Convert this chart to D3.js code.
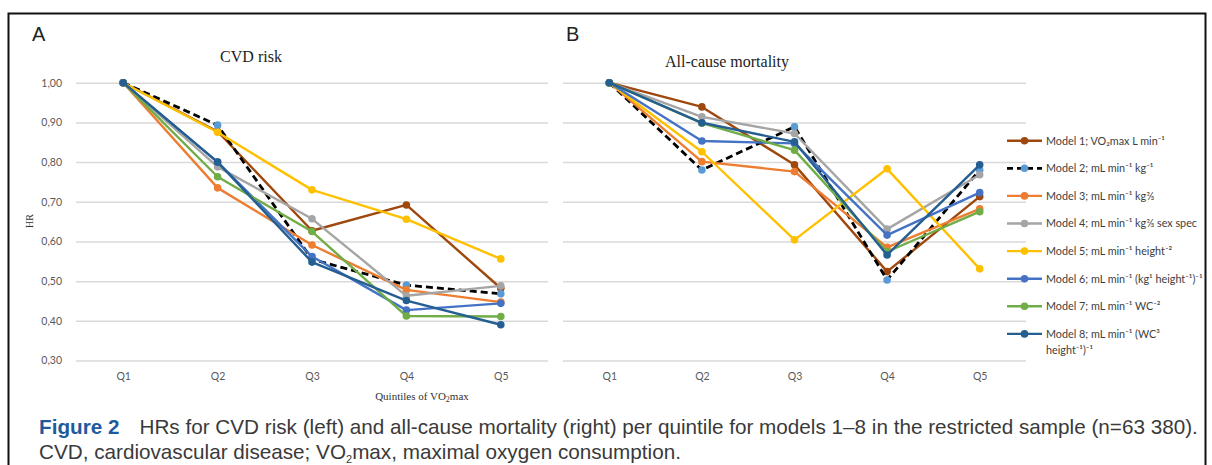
<!DOCTYPE html>
<html>
<head>
<meta charset="utf-8">
<script src="https://cdn.jsdelivr.net/npm/d3@7"></script>
<style>
  html, body { margin: 0; padding: 0; background: #fff; }
  svg { display: block; }
</style>
</head>
<body>
<svg id="fig" width="1212" height="465"></svg>
<script>
// Quintile categories and y ticks
const quintiles = ["Q1", "Q2", "Q3", "Q4", "Q5"];
const hrTicks = [0.3, 0.4, 0.5, 0.6, 0.7, 0.8, 0.9, 1.0];

// Model names (legend)
const modelNames = [
  ["Model 1; VO₂max L min⁻¹"],
  ["Model 2; mL min⁻¹ kg⁻¹"],
  ["Model 3; mL min⁻¹ kg⅔"],
  ["Model 4; mL min⁻¹ kg⅔ sex spec"],
  ["Model 5; mL min⁻¹ height⁻²"],
  ["Model 6; mL min⁻¹ (kg¹ height⁻¹)⁻¹"],
  ["Model 7; mL min⁻¹ WC⁻²"],
  ["Model 8; mL min⁻¹ (WC³", "height⁻¹)⁻¹"]
];

// HR per quintile, CVD risk (panel A), models 1–8
const cvdRisk = [
  [1.00, 0.877, 0.627, 0.692, 0.482],
  [1.00, 0.893, 0.555, 0.490, 0.468],
  [1.00, 0.735, 0.591, 0.478, 0.447],
  [1.00, 0.788, 0.657, 0.463, 0.488],
  [1.00, 0.875, 0.730, 0.656, 0.556],
  [1.00, 0.800, 0.562, 0.427, 0.444],
  [1.00, 0.763, 0.625, 0.412, 0.411],
  [1.00, 0.800, 0.548, 0.451, 0.390]
];

// HR per quintile, all-cause mortality (panel B), models 1–8
const mortality = [
  [1.00, 0.939, 0.793, 0.524, 0.713],
  [1.00, 0.780, 0.889, 0.503, 0.780],
  [1.00, 0.801, 0.776, 0.585, 0.682],
  [1.00, 0.914, 0.872, 0.631, 0.768],
  [1.00, 0.826, 0.604, 0.783, 0.531],
  [1.00, 0.853, 0.847, 0.616, 0.723],
  [1.00, 0.898, 0.830, 0.574, 0.675],
  [1.00, 0.899, 0.851, 0.566, 0.793]
];

// Series styling
const lineColors   = ["#9e480e", "#000000", "#ed7d31", "#a5a5a5", "#ffc000", "#4472c4", "#70ad47", "#255e91"];
const markerColors = ["#9e480e", "#5b9bd5", "#ed7d31", "#a5a5a5", "#ffc000", "#4472c4", "#70ad47", "#255e91"];
const dashes       = [null, "7,4", null, null, null, null, null, null];

const svg = d3.select("#fig");

// Figure frame
svg.append("path")
  .attr("d", "M8.5,470 V13.5 H1205.5 V470")
  .attr("fill", "none").attr("stroke", "#111").attr("stroke-width", 2);

const y = d3.scaleLinear().domain([0.3, 1.0]).range([360.5, 82.7]);
const tickSans = "Lato, 'Open Sans', sans-serif";
const serif = "'Liberation Serif', 'DejaVu Serif', serif";

function drawPanel(x0, x1, data, withLabels) {
  const x = d3.scalePoint().domain(quintiles).range([x0, x1]).padding(0.5);
  const g = svg.append("g");

  // horizontal gridlines
  const yAxis = d3.axisLeft(y).tickValues(hrTicks).tickSize(-(x1 - x0))
    .tickFormat(d => withLabels ? d3.format(".2f")(d).replace(".", ",") : "");
  const ga = g.append("g").attr("transform", `translate(${x0},0)`).call(yAxis);
  ga.select(".domain").remove();
  ga.selectAll(".tick line").attr("stroke", "#d9d9d9").attr("stroke-width", 1.5);
  ga.selectAll(".tick text")
    .attr("x", -14).attr("fill", "#595959")
    .style("font-family", tickSans).style("font-size", "10.5px");

  // category labels
  const xAxis = d3.axisBottom(x).tickSize(0).tickPadding(0);
  const gx = g.append("g").attr("transform", "translate(0,373)").call(xAxis);
  gx.select(".domain").remove();
  gx.selectAll(".tick text").attr("fill", "#595959")
    .style("font-family", tickSans).style("font-size", "10.5px");

  const line = d3.line().x((d, i) => x(quintiles[i])).y(d => y(d));

  data.forEach((vals, m) => {
    const s = g.append("g");
    s.append("path").datum(vals)
      .attr("d", line).attr("fill", "none")
      .attr("stroke", lineColors[m]).attr("stroke-width", m === 1 ? 2.8 : 2.4)
      .attr("stroke-dasharray", dashes[m])
      .attr("stroke-linejoin", "round");
    s.selectAll("circle").data(vals).join("circle")
      .attr("cx", (d, i) => x(quintiles[i])).attr("cy", d => y(d))
      .attr("r", 3.8).attr("fill", markerColors[m]);
  });
}

drawPanel(76, 548, cvdRisk, true);
drawPanel(563, 1026, mortality, false);

// Panel letters and titles
svg.append("text").attr("x", 32).attr("y", 41).text("A")
  .style("font-family", "'Liberation Sans', Arial, sans-serif").style("font-size", "20px").attr("fill", "#222");
svg.append("text").attr("x", 566).attr("y", 41).text("B")
  .style("font-family", "'Liberation Sans', Arial, sans-serif").style("font-size", "20px").attr("fill", "#222");

svg.append("text").attr("x", 251).attr("y", 62).attr("text-anchor", "middle").text("CVD risk")
  .style("font-family", serif).style("font-size", "16px").attr("fill", "#222");
svg.append("text").attr("x", 727).attr("y", 67).attr("text-anchor", "middle").text("All-cause mortality")
  .style("font-family", serif).style("font-size", "16px").attr("fill", "#222");

// Axis titles
svg.append("text").attr("transform", "translate(33,221) rotate(-90)").attr("text-anchor", "middle")
  .text("HR").style("font-family", serif).style("font-size", "10px").attr("fill", "#333");
const xt = svg.append("text").attr("x", 422).attr("y", 400).attr("text-anchor", "middle")
  .style("font-family", serif).style("font-size", "11px").attr("fill", "#333");
xt.append("tspan").text("Quintiles of VO");
xt.append("tspan").attr("font-size", "8px").attr("dy", 2).text("2");
xt.append("tspan").attr("dy", -2).text("max");

// Legend
const legY0 = 140.7, legStep = 27.6;
modelNames.forEach((lines, m) => {
  const ly = legY0 + m * legStep;
  const lg = svg.append("g");
  lg.append("line").attr("x1", 1007).attr("x2", 1042).attr("y1", ly).attr("y2", ly)
    .attr("stroke", lineColors[m]).attr("stroke-width", m === 1 ? 2.8 : 2.4)
    .attr("stroke-dasharray", m === 1 ? "6,4" : null);
  lg.append("circle").attr("cx", 1024.5).attr("cy", ly).attr("r", 3.8).attr("fill", markerColors[m]);
  lines.forEach((t, k) => {
    lg.append("text").attr("x", 1046).attr("y", ly + 3.8 + k * 16).text(t)
      .style("font-family", tickSans).style("font-size", "10.8px").attr("fill", "#404040");
  });
});

// Caption
const capFont = "'Liberation Sans', Arial, sans-serif";
const c1 = svg.append("text").attr("x", 39).attr("y", 434)
  .style("font-family", capFont).style("font-size", "17px").attr("fill", "#3a3a3a");
c1.append("tspan").attr("font-weight", "bold").attr("fill", "#1f5a9e").text("Figure 2");
c1.append("tspan").attr("dx", 20).text("HRs for CVD risk (left) and all-cause mortality (right) per quintile for models 1–8 in the restricted sample (n=63 380).");

const c2 = svg.append("text").attr("x", 39).attr("y", 459)
  .style("font-family", capFont).style("font-size", "17px").attr("fill", "#3a3a3a");
c2.append("tspan").text("CVD, cardiovascular disease; VO");
c2.append("tspan").attr("font-size", "11px").attr("dy", 4).text("2");
c2.append("tspan").attr("dy", -4).text("max, maximal oxygen consumption.");

// fit caption width inside the frame
const w1 = c1.node().getComputedTextLength();
const fs = 17 * (1140 / w1);
c1.style("font-size", fs + "px");
c2.style("font-size", fs + "px");
</script>
</body>
</html>
